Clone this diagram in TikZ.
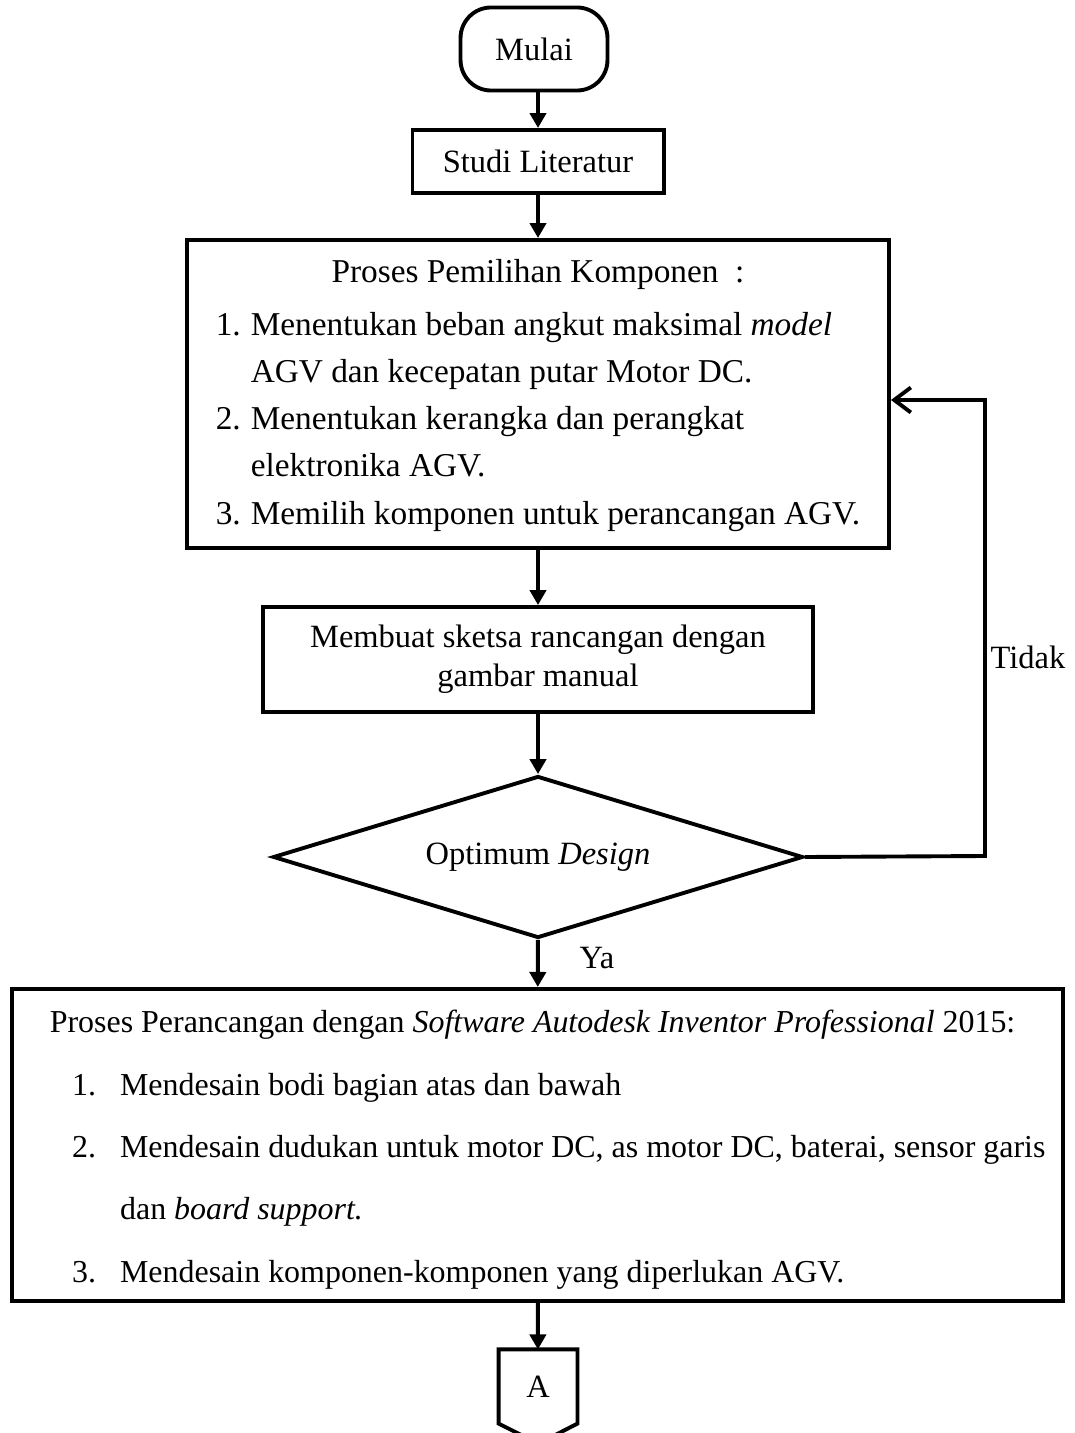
\documentclass[tikz,border=0pt]{standalone}
\usepackage{fontspec}
\setmainfont{Liberation Serif}
\usetikzlibrary{shapes.geometric,arrows.meta}

\tikzset{
  garis/.style={line width=1.4pt},
  panah/.style={garis, -{Triangle[length=5.4pt,width=5.8pt]}},
  kotak/.style={draw, garis, rectangle, inner sep=0pt},
}

\begin{document}
\begin{tikzpicture}[x=0.36pt, y=-0.36pt, font=\fontsize{11.7}{14.5}\selectfont]
        \useasboundingbox (0,0) rectangle (1075,1433);

        % Mulai
        \node[kotak, rounded corners=11pt, minimum width=52.9pt, minimum height=29.9pt] (mulai) at (534,49) {Mulai};

        % Studi literatur
        \node[kotak, minimum width=90.4pt, minimum height=22.7pt] (studi) at (538,161.5) {Studi Literatur};

        % Pemilihan komponen
        \node[kotak, minimum width=252.7pt, minimum height=110.9pt, font=\fontsize{12}{14.5}\selectfont] (pilih) at (538,394) {%
            \renewcommand{\arraystretch}{1.17}%
            \begin{tabular}{@{}p{12.6pt}@{}l@{}}
                \multicolumn{2}{c}{Proses Pemilihan Komponen\ \ :}\\[2pt]
                1. & Menentukan beban angkut maksimal \textit{model}\\
                   & AGV dan kecepatan putar Motor DC.\\
                2. & Menentukan kerangka dan perangkat\\
                   & elektronika AGV.\\
                3. & Memilih komponen untuk perancangan AGV.
            \end{tabular}};

        % Sketsa
        \node[kotak, minimum width=198pt, minimum height=37.8pt, align=center, font=\fontsize{11.7}{14}\selectfont] (sketsa) at (538,659.5) {Membuat sketsa rancangan dengan\\gambar manual};

        % Keputusan
        \node[kotak, diamond, aspect=3.27, minimum width=190.8pt, minimum height=58.3pt] (optimum) at (538,857) {Optimum \textit{Design}};

        % Perancangan
        \node[kotak, minimum width=378.4pt, minimum height=109.1pt, font=\fontsize{11.5}{14.5}\selectfont] (rancang) at (537.5,1145) {%
            \renewcommand{\arraystretch}{1.55}%
            \begin{tabular}{@{\hspace{7.3pt}}p{8pt}@{}p{17.3pt}@{}l@{}}
                \multicolumn{3}{@{\hspace{7.3pt}}l@{}}{Proses Perancangan dengan \textit{Software Autodesk Inventor Professional} 2015:}\\
                & 1. & Mendesain bodi bagian atas dan bawah\\
                & 2. & Mendesain dudukan untuk motor DC, as motor DC, baterai, sensor garis\\
                &    & dan \textit{board support.}\\
                & 3. & Mendesain komponen-komponen yang diperlukan AGV.
            \end{tabular}};

        % Konektor A
        \node[inner sep=0pt, minimum width=28pt, minimum height=26.3pt] (A) at (538,1386.5) {A};
        \draw[garis] (A.north west) -- (A.north east) -- (A.south east) -- ++(-14pt,-7.2pt) -- (A.south west) -- cycle;

        % Panah utama
        \draw[panah] (mulai.south -| studi.north) -- (studi);
        \draw[panah] (studi) -- (pilih);
        \draw[panah] (pilih) -- (sketsa);
        \draw[panah] (sketsa) -- (optimum);
        \draw[panah] (optimum) -- (rancang);
        \draw[panah] (rancang) -- (A);

        % Cabang Tidak
        \coordinate (belok1) at (985,856);
        \coordinate (belok2) at (985,400);
        \draw[garis, -{Straight Barb[length=6pt,width=9pt]}] (optimum.east) -- (belok1) -- (belok2) -- (pilih.east |- belok2);

        \node (tidak) at (1028,657) {Tidak};
        \node (ya) at (597,958) {Ya};

\end{tikzpicture}
\end{document}
